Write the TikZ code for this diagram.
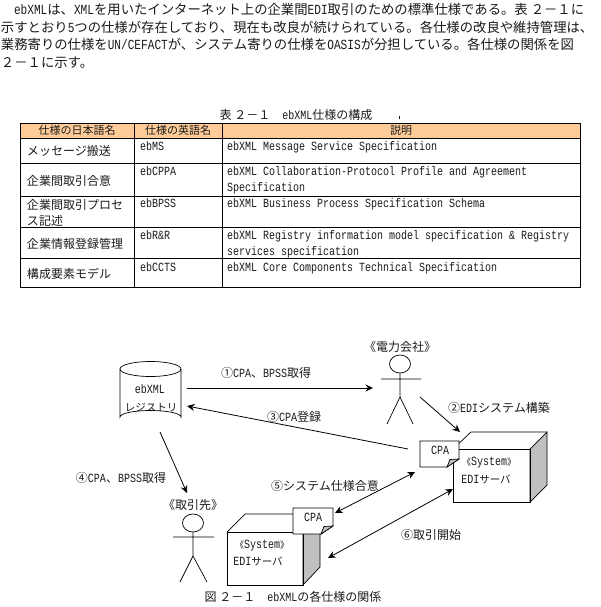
\documentclass[tikz,border=0pt]{standalone}
\usepackage{fontspec}
\setmainfont{Noto Sans CJK JP}
\newfontfamily\latinmono[FakeStretch=0.8]{Liberation Mono}
\newcommand{\lm}[1]{{\latinmono\fontsize{12.5}{14}\selectfont #1}}
\newcommand{\plm}[1]{{\latinmono\fontsize{13.9}{15}\selectfont #1}}
\newcommand{\qm}[1]{{\fontsize{9}{10}\selectfont #1}}
\definecolor{headfill}{HTML}{FFCC99}
\definecolor{sidegray}{HTML}{C0C0C0}
\definecolor{ink}{HTML}{1A1A1A}
\tikzset{
  txt/.style={inner sep=0pt,outer sep=0pt,anchor=base west,text=ink,font=\fontsize{12}{14}\selectfont},
  para/.style={txt,font=\fontsize{13.35}{15}\selectfont},
  ctr/.style={inner sep=0pt,outer sep=0pt,anchor=base,text=ink,font=\fontsize{12}{14}\selectfont},
  hd/.style={ctr,font=\fontsize{11}{14}\selectfont},
  small/.style={ctr,font=\fontsize{10.5}{12}\selectfont},
  conn/.style={line width=0.8pt,black,>={Stealth[length=7.5pt,width=7pt]}},
  rule/.style={line width=0.8pt,black},
  shp/.style={line width=0.7pt,black}
}
\usetikzlibrary{arrows.meta}
\begin{document}
\begin{tikzpicture}[x=1pt,y=-1pt]
\useasboundingbox (0,0) rectangle (600,607);
% paragraph
\node[para] (p1) at (14,15) {\plm{ebXML}は、\plm{XML}を用いたインターネット上の企業間\plm{EDI}取引のための標準仕様である。表 ２－１に};
\node[para] (p2) at (1,33) {示すとおり\plm{5}つの仕様が存在しており、現在も改良が続けられている。各仕様の改良や維持管理は、};
\node[para] (p3) at (1,50) {業務寄りの仕様を\plm{UN/CEFACT}が、システム寄りの仕様を\plm{OASIS}が分担している。各仕様の関係を図};
\node[para] (p4) at (1,68) {２－１に示す。};
% table
\node[ctr] (tcap) at (296,120) {表 ２－１　\lm{ebXML}仕様の構成};
\fill[black] (398.5,116) rectangle (400,119);
\fill[headfill] (20,123) rectangle (580,138);
\draw[rule] (20,123) rectangle (580,287.5);
\foreach \yy in {138,163,196,227,258} \draw[rule] (20,\yy) -- (580,\yy);
\draw[rule] (134,123) -- (134,287.5);
\draw[rule] (222,123) -- (222,287.5);
\node[hd] (h1) at (77,134.5) {仕様の日本語名};
\node[hd] (h2) at (178,134.5) {仕様の英語名};
\node[hd] (h3) at (401,134.5) {説明};
\node[txt] (a1) at (27,155) {メッセージ搬送};
\node[txt] (a2) at (27,185) {企業間取引合意};
\node[txt] (a3) at (27,209) {企業間取引プロセ};
\node[txt] (a3b) at (27,225) {ス記述};
\node[txt] (a4) at (27,248) {企業情報登録管理};
\node[txt] (a5) at (27,278) {構成要素モデル};
\node[txt] (b1) at (140,150) {\lm{ebMS}};
\node[txt] (b2) at (140,175) {\lm{ebCPPA}};
\node[txt] (b3) at (140,207) {\lm{ebBPSS}};
\node[txt] (b4) at (140,239) {\lm{ebR\&R}};
\node[txt] (b5) at (140,271) {\lm{ebCCTS}};
\node[txt] (c1) at (227,150) {\lm{ebXML Message Service Specification}};
\node[txt] (c2) at (227,175) {\lm{ebXML Collaboration-Protocol Profile and Agreement}};
\node[txt] (c2b) at (227,191) {\lm{Specification}};
\node[txt] (c3) at (227,207) {\lm{ebXML Business Process Specification Schema}};
\node[txt] (c4) at (227,239) {\lm{ebXML Registry information model specification \& Registry}};
\node[txt] (c4b) at (227,255) {\lm{services specification}};
\node[txt] (c5) at (227,271) {\lm{ebXML Core Components Technical Specification}};
% registry
\draw[shp] (120,369) -- (120,417) arc[start angle=180,end angle=360,x radius=30.5,y radius=6.5] -- (181,369);
\draw[shp] (150.5,369) ellipse[x radius=30.5,y radius=7.5];
\node[ctr] (reg1) at (150,393) {\lm{ebXML}};
\node[small] (reg2) at (151,411) {レジストリ};
% actor 1
\node[ctr] (act1lab) at (400,351) {《電力会社》};
\draw[shp] (400,364) ellipse[x radius=10.5,y radius=9];
\draw[shp] (400,373) -- (400,397) (381,379) -- (421,379) (387,424) -- (400,397) -- (413,424);
% actor 2
\node[ctr] (act2lab) at (193,509) {《取引先》};
\draw[shp] (193,523) ellipse[x radius=10.5,y radius=9];
\draw[shp] (193,532) -- (193,556) (173,537) -- (214,537) (180,582) -- (193,556) -- (207,582);
% box 1
\fill[sidegray,draw=black,line width=0.7pt] (530,449) -- (547,432) -- (547,485) -- (530,502) -- cycle;
\draw[shp] (453,449) rectangle (530,502);
\draw[shp] (453,449) -- (471,432) -- (547,432);
\node[ctr] (s1) at (489,465) {\qm{《}\lm{System}\qm{》}};
\node[small] (e1) at (486,483) {\lm{EDI}サーバ};
% box 2
\fill[sidegray,draw=black,line width=0.7pt] (303,532) -- (320,514) -- (320,567) -- (303,585) -- cycle;
\draw[shp] (227,532) rectangle (303,585);
\draw[shp] (227,532) -- (245,514) -- (320,514);
\node[ctr] (s2) at (262,548) {\qm{《}\lm{System}\qm{》}};
\node[small] (e2) at (258,565) {\lm{EDI}サーバ};
% CPA 1
\filldraw[shp,fill=white] (420,441) -- (459,441) -- (459,459) -- (447,467) -- (420,467) -- cycle;
\filldraw[shp,fill=sidegray] (459,459) -- (450,459.5) -- (447,467) -- cycle;
\node[ctr] (cpa1) at (440,454) {\lm{CPA}};
% CPA 2
\filldraw[shp,fill=white] (293,508) -- (333,508) -- (333,526) -- (321,534) -- (293,534) -- cycle;
\filldraw[shp,fill=sidegray] (333,526) -- (324,526.5) -- (321,534) -- cycle;
\node[ctr] (cpa2) at (313,521) {\lm{CPA}};
% connector ends
\coordinate (r1) at (187,388);
\coordinate (u1) at (373,388);
\coordinate (u1b) at (420,397);
\coordinate (bx1) at (460,432);
\coordinate (cp1) at (408,449);
\coordinate (r3) at (187,406);
\coordinate (r4) at (160,432);
\coordinate (u2) at (187,493);
\coordinate (cp2) at (335,513);
\coordinate (cp1b) at (415,472);
\coordinate (bx2) at (328,558);
\coordinate (bx1b) at (453,489);
\draw[conn,->] (r1) -- (u1);
\draw[conn,->] (u1b) -- (bx1);
\draw[conn,->] (cp1) -- (r3);
\draw[conn,->] (r4) -- (u2);
\draw[conn,<->] (cp2) -- (cp1b);
\draw[conn,<->] (bx2) -- (bx1b);
% labels
\node[ctr] (l1) at (266,377) {①\lm{CPA}、\lm{BPSS}取得};
\node[ctr] (l3) at (294,421) {③\lm{CPA}登録};
\node[ctr] (l2) at (499,412) {②\lm{EDI}システム構築};
\node[ctr] (l4) at (121,482) {④\lm{CPA}、\lm{BPSS}取得};
\node[ctr] (l5) at (325,490) {⑤システム仕様合意};
\node[ctr] (l6) at (431,539) {⑥取引開始};
\node[ctr] (cap) at (293,601) {図 ２－１　\lm{ebXML}の各仕様の関係};
\end{tikzpicture}
\end{document}
